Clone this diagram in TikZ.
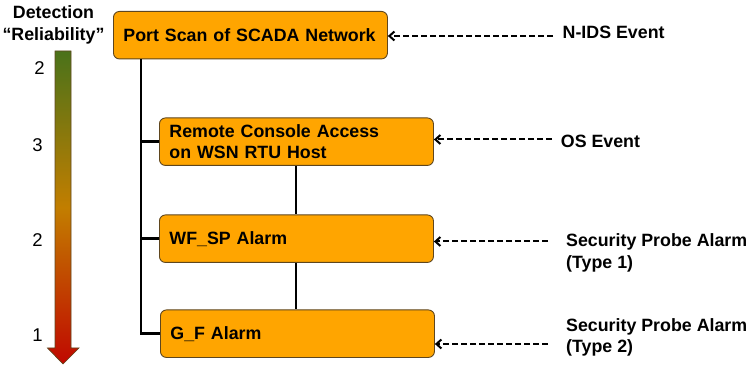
\documentclass[tikz,border=0pt]{standalone}
\usepackage{fontspec}
\setmainfont{Liberation Sans}
\usetikzlibrary{arrows.meta}

\definecolor{boxfill}{RGB}{255,165,0}
\definecolor{boxline}{RGB}{95,70,30}
\definecolor{scaletop}{RGB}{74,114,26}
\definecolor{scalemid}{RGB}{194,126,0}
\definecolor{scalebot}{RGB}{192,8,0}

\begin{document}
\begin{tikzpicture}[x=1pt,y=-1pt,
  event/.style={draw=boxline, fill=boxfill, rounded corners=6pt, line width=0.9pt,
    minimum height=47.5pt, text width=254pt, inner xsep=10pt, inner ysep=0pt,
    align=left, anchor=north west, font=\bfseries\fontsize{17.8}{21}\selectfont},
  source/.style={inner sep=0pt, align=left, anchor=north west,
    font=\bfseries\fontsize{17.8}{21.5}\selectfont},
  level/.style={inner sep=0pt, font=\fontsize{18.5}{20}\selectfont},
  tree/.style={line width=2.6pt},
  link/.style={line width=2pt},
  feed/.style={line width=2pt, dash pattern=on 6pt off 3pt,
    -{Straight Barb[length=5pt,width=9pt,line width=2pt]}}
]
\useasboundingbox (0,0) rectangle (753,366);

% reliability scale (middle colour must follow top/bottom colour)
\node[source, align=center, anchor=center] (title) at (53.5,25) {Detection\\“Reliability”};
\shadedraw[draw=boxline, line width=0.7pt, top color=scaletop, bottom color=scalebot, middle color=scalemid]
  (55,51) -- (71,51) -- (71,348) -- (79,348) -- (63,364) -- (47.5,348) -- (55,348) -- cycle;
\node[level] (l2a) at (39.5,68) {2};
\node[level] (l3) at (37.5,145) {3};
\node[level] (l2b) at (37.5,240) {2};
\node[level] (l1) at (37.5,335) {1};

% alarm tree
\node[event] (scan) at (113,11) {Port Scan of SCADA Network};
\node[event] (rca) at (159,117.5) {Remote Console Access\\on WSN RTU Host};
\node[event] (wfsp) at (159,214.5) {WF\_SP Alarm};
\node[event] (gf) at (160,309.5) {G\_F Alarm};

\coordinate (trunk) at ([xshift=28pt]scan.south west);
\draw[tree] (trunk) -- (trunk |- gf.west) -- (gf.west);
\draw[tree] (trunk |- rca.west) -- (rca.west);
\draw[tree] (trunk |- wfsp.west) -- (wfsp.west);
\draw[link] (rca.south) -- (wfsp.north);
\draw[link] (wfsp.south) -- (wfsp.south |- gf.north);

% event sources
\node[source] (nids) at (562.5,26) {N-IDS Event};
\node[source] (os) at (560.7,135) {OS Event};
\node[source] (sp1) at (566,233.5) {Security Probe Alarm\\(Type 1)};
\node[source] (sp2) at (566,318) {Security Probe Alarm\\(Type 2)};

\coordinate (nidsfrom) at (553,36);
\coordinate (osfrom) at (552,139.5);
\coordinate (sp1from) at (548,241.5);
\coordinate (sp2from) at (548,344);

\draw[feed] (nidsfrom) -- (scan.east |- nidsfrom);
\draw[feed] (osfrom) -- (rca.east |- osfrom);
\draw[feed] (sp1from) -- (wfsp.east |- sp1from);
\draw[feed] (sp2from) -- (gf.east |- sp2from);
\end{tikzpicture}
\end{document}
